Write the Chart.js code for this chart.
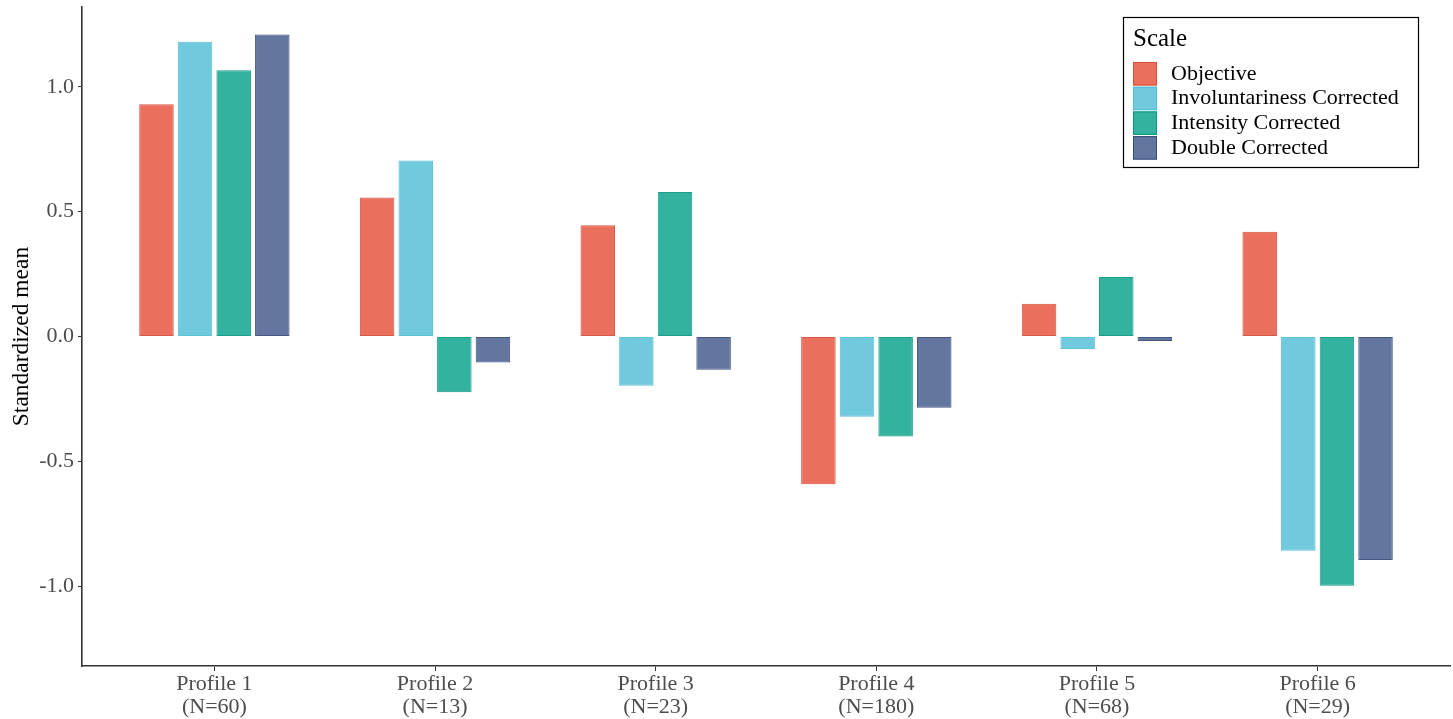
<!DOCTYPE html>
<html>
<head>
<meta charset="utf-8">
<script src="https://cdn.jsdelivr.net/npm/chart.js@4/dist/chart.umd.min.js"></script>
<style>
html,body{margin:0;padding:0;background:#fff;}
#wrap{width:1453px;height:719px;position:relative;}
</style>
</head>
<body>
<div id="wrap"><canvas id="c" width="1453" height="719"></canvas></div>
<script>
const categories = ["Profile 1", "Profile 2", "Profile 3", "Profile 4", "Profile 5", "Profile 6"];
const sampleSizes = ["(N=60)", "(N=13)", "(N=23)", "(N=180)", "(N=68)", "(N=29)"];
const seriesNames = ["Objective", "Involuntariness Corrected", "Intensity Corrected", "Double Corrected"];
const objective = [0.930, 0.557, 0.446, -0.591, 0.132, 0.420];
const involuntariness = [1.180, 0.705, -0.197, -0.321, -0.050, -0.857];
const intensity = [1.066, -0.223, 0.579, -0.400, 0.239, -0.997];
const doubleCorrected = [1.209, -0.104, -0.133, -0.285, -0.018, -0.894];
const yTicks = [-1.0, -0.5, 0.0, 0.5, 1.0];

const fills = ["rgba(230,75,53,0.8)", "rgba(77,187,213,0.8)", "rgba(0,160,135,0.8)", "rgba(60,84,136,0.8)"];
const borders = ["rgba(214,70,50,0.9)", "rgba(77,187,213,0.9)", "rgba(0,150,125,0.9)", "rgba(50,70,120,0.9)"];
const seriesValues = [objective, involuntariness, intensity, doubleCorrected];

const FONT = "'Liberation Serif', 'Times New Roman', serif";

const datasets = seriesValues.map((vals, s) => ({
  label: seriesNames[s],
  data: vals.map((v, i) => ({x: i + 1, y: v})),
  backgroundColor: fills[s],
  borderColor: borders[s],
  borderWidth: 1,
  borderSkipped: false,
  categoryPercentage: 0.70,
  barPercentage: 0.894
}));

const legendPlugin = {
  id: 'boxLegend',
  afterDraw(chart) {
    const ctx = chart.ctx;
    const x0 = 1123.5, y0 = 17.5, w = 295, h = 150;
    ctx.save();
    ctx.fillStyle = '#fff';
    ctx.fillRect(x0, y0, w, h);
    ctx.strokeStyle = '#000';
    ctx.lineWidth = 1.2;
    ctx.strokeRect(x0, y0, w, h);
    ctx.fillStyle = '#000';
    ctx.textBaseline = 'alphabetic';
    ctx.textAlign = 'left';
    ctx.font = "25px " + FONT;
    ctx.fillText("Scale", 1133, 46);
    ctx.font = "22px " + FONT;
    chart.data.datasets.forEach((ds, i) => {
      const ky = 62 + i * 24.7;
      ctx.fillStyle = ds.backgroundColor;
      ctx.fillRect(1133, ky, 24, 23.5);
      ctx.strokeStyle = ds.borderColor;
      ctx.lineWidth = 1;
      ctx.strokeRect(1133.5, ky + 0.5, 23, 22.5);
      ctx.fillStyle = '#000';
      ctx.textBaseline = 'middle';
      ctx.fillText(ds.label, 1171, ky + 12);
    });
    ctx.restore();
  }
};

new Chart(document.getElementById('c'), {
  type: 'bar',
  data: { datasets },
  options: {
    responsive: false,
    animation: false,
    layout: { padding: { top: 7, right: 3, left: 0, bottom: 0 } },
    plugins: { legend: { display: false }, tooltip: { enabled: false } },
    scales: {
      x: {
        type: 'linear',
        min: 0.4,
        max: 6.6,
        offset: false,
        afterBuildTicks: (scale) => { scale.ticks = categories.map((_, i) => ({ value: i + 1 })); },
        afterFit: (scale) => { scale.height = 53; scale.paddingLeft = 0; scale.paddingRight = 0; },
        grid: { offset: false, drawOnChartArea: false, drawTicks: true, tickLength: 5, color: '#333', lineWidth: 1 },
        border: { display: true, color: '#333', width: 1.6 },
        ticks: {
          autoSkip: false,
          maxRotation: 0,
          padding: 2,
          color: '#4D4D4D',
          font: { family: FONT, size: 22, lineHeight: 1.05 },
          callback: (v) => {
            const i = Math.round(v) - 1;
            return [categories[i], sampleSizes[i]];
          }
        }
      },
      y: {
        min: -1.318,
        max: 1.319,
        afterBuildTicks: (scale) => { scale.ticks = yTicks.map(v => ({ value: v })); },
        afterFit: (scale) => { scale.width = 82; scale.paddingTop = 0; scale.paddingBottom = 0; },
        grid: { drawOnChartArea: false, drawTicks: true, tickLength: 4, color: '#333', lineWidth: 1 },
        border: { display: true, color: '#333', width: 1.6 },
        ticks: {
          padding: 4,
          color: '#4D4D4D',
          font: { family: FONT, size: 22 },
          callback: (v) => v.toFixed(1)
        },
        title: {
          display: true,
          text: 'Standardized mean',
          color: '#000',
          font: { family: FONT, size: 23.5 },
          padding: { top: 8, bottom: 2 }
        }
      }
    }
  },
  plugins: [legendPlugin]
});
</script>
</body>
</html>
